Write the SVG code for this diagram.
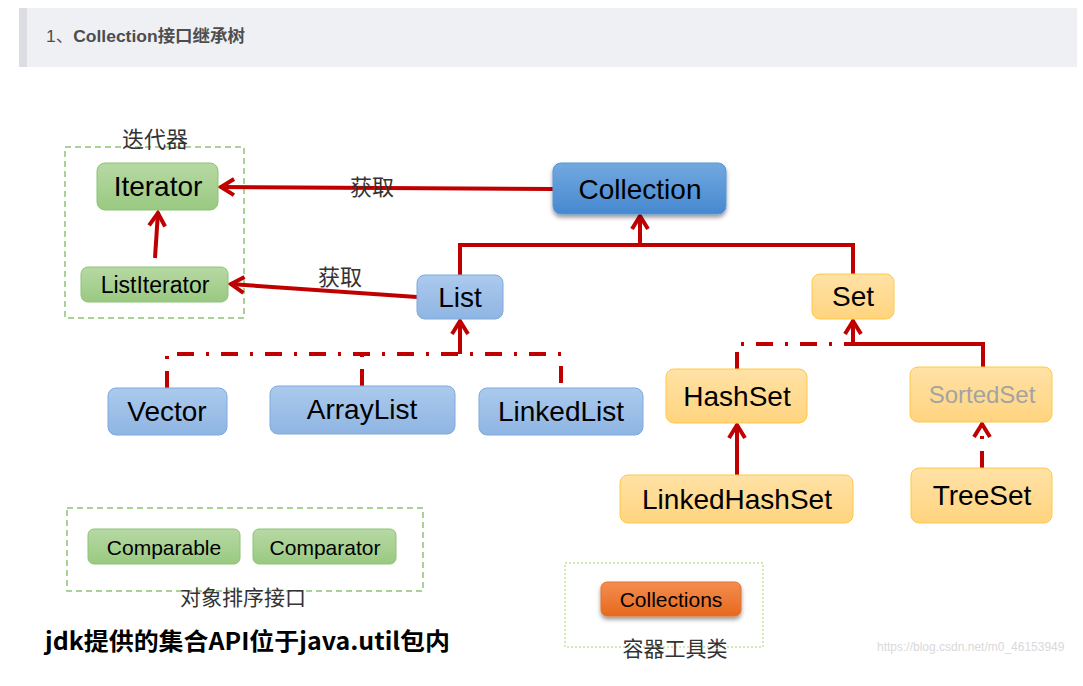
<svg xmlns="http://www.w3.org/2000/svg" width="1083" height="686" viewBox="0 0 1083 686">
<defs>
<linearGradient id="gGreen" x1="0" y1="0" x2="0" y2="1"><stop offset="0" stop-color="#b7d9a4"/><stop offset="1" stop-color="#99c981"/></linearGradient>
<linearGradient id="gBlueL" x1="0" y1="0" x2="0" y2="1"><stop offset="0" stop-color="#abcaed"/><stop offset="1" stop-color="#8fb5e3"/></linearGradient>
<linearGradient id="gBlueD" x1="0" y1="0" x2="0" y2="1"><stop offset="0" stop-color="#72a9df"/><stop offset="1" stop-color="#4688d0"/></linearGradient>
<linearGradient id="gYel" x1="0" y1="0" x2="0" y2="1"><stop offset="0" stop-color="#ffe2a6"/><stop offset="1" stop-color="#ffd47f"/></linearGradient>
<linearGradient id="gOra" x1="0" y1="0" x2="0" y2="1"><stop offset="0" stop-color="#f38d4f"/><stop offset="1" stop-color="#e7691d"/></linearGradient>
<filter id="shadow" x="-10%" y="-10%" width="120%" height="140%"><feDropShadow dx="0" dy="3" stdDeviation="2" flood-color="#000" flood-opacity="0.4"/></filter>
<marker id="arr" markerUnits="userSpaceOnUse" viewBox="-18 -12 22 24" refX="0" refY="0" markerWidth="22" markerHeight="24" orient="auto">
<path d="M-14,-8 L-1,0 L-14,8" fill="none" stroke="#c00000" stroke-width="4"/>
</marker>
<style>
.node text{font-family:"Liberation Sans",Arial,sans-serif;fill:#000;text-anchor:middle}
.green{fill:url(#gGreen);stroke:#8cc474;stroke-width:1}
.blueL{fill:url(#gBlueL);stroke:#7eaadc;stroke-width:1}
.blueD{fill:url(#gBlueD);stroke:#5b95d4;stroke-width:1}
.yel{fill:url(#gYel);stroke:#ffc845;stroke-width:1}
.ora{fill:url(#gOra);stroke:#e07330;stroke-width:1}
.conn path{fill:none;stroke:#c00000;stroke-width:4}
.conn .dd{stroke-dasharray:17 12 3 12}
.lbl{font-family:"Liberation Serif","Noto Sans CJK SC",serif;fill:#333;text-anchor:middle}
.grp{fill:none;stroke:#8cc474;stroke-width:1.5;stroke-dasharray:6 4}
</style>
</defs>
<rect x="0" y="0" width="1083" height="686" fill="#fff"/>
<g id="header">
<rect x="19" y="8" width="1058" height="59" fill="#eff0f4"/>
<rect x="19" y="8" width="8" height="59" fill="#dcdde2"/>
<text x="46" y="42" font-family="'Liberation Sans','Noto Sans CJK SC',sans-serif" font-size="16.5" fill="#4d4d4d" textLength="199" lengthAdjust="spacingAndGlyphs">1、<tspan font-weight="bold">Collection接口继承树</tspan></text>
</g>
<g id="iter-group">
<rect class="grp" x="65" y="147" width="179" height="171"/>
<text class="lbl" x="155" y="147" font-size="22">迭代器</text>
</g>
<g id="sort-group">
<rect class="grp" x="67" y="508" width="356" height="83"/>
<text class="lbl" x="243" y="605" font-size="21">对象排序接口</text>
</g>
<g id="util-group">
<rect x="565" y="563" width="198" height="84" fill="none" stroke="#a6d673" stroke-width="1" stroke-dasharray="2 2"/>
<text class="lbl" x="675" y="656" font-size="21">容器工具类</text>
</g>
<g id="connectors" class="conn">
<path d="M553,189 L220,187" marker-end="url(#arr)"/>
<path d="M417,297 L230,284" marker-end="url(#arr)"/>
<path d="M155,258 L158,212" marker-end="url(#arr)"/>
<path d="M460,275 V245 H853 V274"/>
<path d="M640,245 V215" marker-end="url(#arr)"/>
<path class="dd" d="M167,388 V354 H561 V388"/>
<path class="dd" d="M362,386 V354"/>
<path d="M460,354 V320" marker-end="url(#arr)"/>
<path d="M853,344 H983 V367"/>
<path class="dd" d="M737,369 V344 H853"/>
<path d="M853,346 V320" marker-end="url(#arr)"/>
<path d="M737,475 V424" marker-end="url(#arr)"/>
<path class="dd" d="M982,468 V423" marker-end="url(#arr)"/>
</g>
<g id="labels">
<text class="lbl" x="372" y="195" font-size="22">获取</text>
<text class="lbl" x="340" y="285" font-size="22">获取</text>
</g>
<g id="Iterator" class="node"><rect class="green" x="97" y="163" width="121" height="47" rx="8"/><text x="158" y="196" font-size="28">Iterator</text></g>
<g id="ListIterator" class="node"><rect class="green" x="81" y="267" width="147" height="35" rx="7"/><text x="155" y="293" font-size="23">ListIterator</text></g>
<g id="Collection" class="node"><rect class="blueD" x="553" y="163" width="173" height="51" rx="8" filter="url(#shadow)"/><text x="640" y="199" font-size="28">Collection</text></g>
<g id="List" class="node"><rect class="blueL" x="417" y="275" width="86" height="44" rx="8"/><text x="460" y="307" font-size="28">List</text></g>
<g id="Set" class="node"><rect class="yel" x="812" y="274" width="82" height="45" rx="8"/><text x="853" y="306" font-size="28">Set</text></g>
<g id="Vector" class="node"><rect class="blueL" x="108" y="388" width="119" height="47" rx="8"/><text x="167" y="421" font-size="28">Vector</text></g>
<g id="ArrayList" class="node"><rect class="blueL" x="270" y="386" width="185" height="48" rx="8"/><text x="362" y="419" font-size="28">ArrayList</text></g>
<g id="LinkedList" class="node"><rect class="blueL" x="479" y="388" width="164" height="47" rx="8"/><text x="561" y="421" font-size="28">LinkedList</text></g>
<g id="HashSet" class="node"><rect class="yel" x="666" y="369" width="141" height="54" rx="8"/><text x="737" y="406" font-size="28">HashSet</text></g>
<g id="SortedSet" class="node"><rect class="yel" x="910" y="367" width="142" height="55" rx="8"/><text x="982" y="403" font-size="24" style="fill:#a3a3a3">SortedSet</text></g>
<g id="LinkedHashSet" class="node"><rect class="yel" x="620" y="475" width="233" height="48" rx="8"/><text x="737" y="509" font-size="28">LinkedHashSet</text></g>
<g id="TreeSet" class="node"><rect class="yel" x="911" y="468" width="141" height="55" rx="8"/><text x="982" y="505" font-size="28">TreeSet</text></g>
<g id="Comparable" class="node"><rect class="green" x="88" y="529" width="152" height="35" rx="6"/><text x="164" y="555" font-size="21">Comparable</text></g>
<g id="Comparator" class="node"><rect class="green" x="253" y="529" width="143" height="35" rx="6"/><text x="325" y="555" font-size="21">Comparator</text></g>
<g id="Collections" class="node"><rect class="ora" x="601" y="582" width="140" height="34" rx="6" filter="url(#shadow)"/><text x="671" y="607" font-size="21">Collections</text></g>
<g id="notes">
<text x="45" y="650" font-family="'Noto Sans CJK SC','Liberation Sans',sans-serif" font-size="24" font-weight="bold" fill="#000" textLength="405" lengthAdjust="spacingAndGlyphs">jdk提供的集合API位于java.util包内</text>
<text x="877" y="651" font-family="'Liberation Sans',Arial,sans-serif" font-size="12" fill="#d9d9d9">https://blog.csdn.net/m0_46153949</text>
</g>
</svg>
